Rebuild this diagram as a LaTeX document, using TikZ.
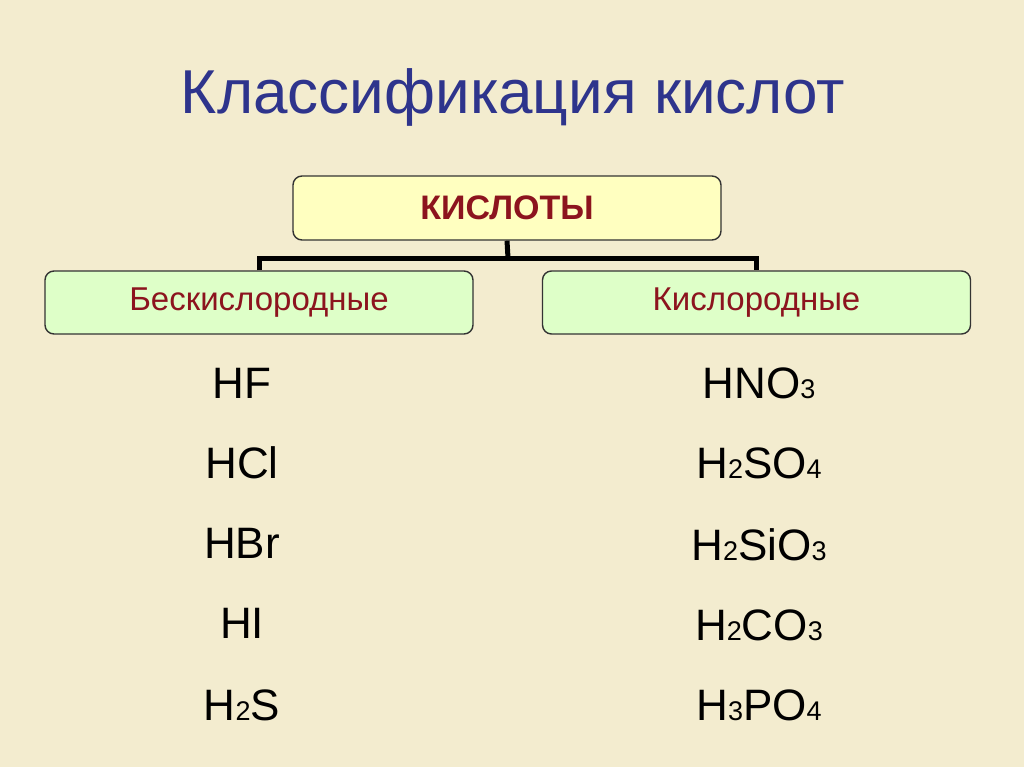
\documentclass[tikz,border=0pt]{standalone}
\usepackage{fontspec}
\setmainfont{Liberation Sans}
\newcommand\ssub[1]{{\fontsize{27}{27}\selectfont #1}}
\definecolor{bgc}{RGB}{243,236,207}
\definecolor{titlec}{RGB}{46,52,140}
\definecolor{redc}{RGB}{140,20,30}
\definecolor{yelc}{RGB}{255,255,192}
\definecolor{grnc}{RGB}{222,255,200}
\begin{document}
\begin{tikzpicture}[x=1pt,y=-1pt,
  box/.style={draw=black!80,line width=1.4pt,rounded corners=9pt,minimum width=428pt,minimum height=63pt,inner sep=0pt},
  formula/.style={font=\fontsize{44}{44}\selectfont,inner sep=0pt},
  conn/.style={line width=5pt,black}]
\fill[bgc] (0,0) rectangle (1024,767);
\useasboundingbox (0,0) rectangle (1024,767);
\node[text=titlec,font=\fontsize{62}{62}\selectfont] (title) at (513,97) {Классификация кислот};
\node[box,fill=yelc,minimum height=64pt,text=redc,font=\fontsize{34}{34}\selectfont\bfseries] (top) at (507,208) {КИСЛОТЫ};
\node[box,fill=grnc,text=redc,font=\fontsize{33}{33}\selectfont] (left) at (259,302.5) {Бескислородные};
\node[box,fill=grnc,text=redc,font=\fontsize{33}{33}\selectfont] (right) at (756.5,302.5) {Кислородные};
\coordinate (j) at (508,258);
\draw[conn] (top.south) -- (j);
\draw[conn] (left.north) |- (j) -| (right.north);
\node[formula] (hf) at (242,383) {HF};
\node[formula] (hcl) at (242,463) {HCl};
\node[formula] (hbr) at (242,543) {HBr};
\node[formula] (hi) at (242,623) {HI};
\node[formula] (hts) at (242,705) {H\ssub{2}S};
\node[formula] (hno) at (759,383) {HNO\ssub{3}};
\node[formula] (hso) at (759,463) {H\ssub{2}SO\ssub{4}};
\node[formula] (hsio) at (759,545) {H\ssub{2}SiO\ssub{3}};
\node[formula] (hco) at (759,625) {H\ssub{2}CO\ssub{3}};
\node[formula] (hpo) at (759,705) {H\ssub{3}PO\ssub{4}};
\end{tikzpicture}
\end{document}
